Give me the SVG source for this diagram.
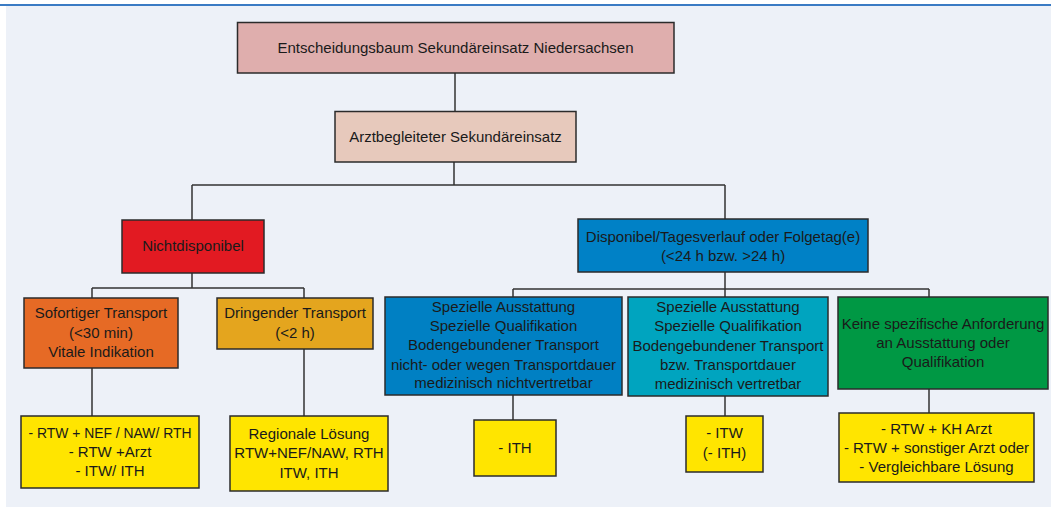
<svg xmlns="http://www.w3.org/2000/svg" width="1051" height="507" viewBox="0 0 1051 507">
<style>
.b{stroke:#2b2b2b;stroke-width:1.5}
.t{font-family:"Liberation Sans",Arial,sans-serif;font-size:15px;fill:#1a1a1a;text-anchor:middle}
.c{fill:none;stroke:#333;stroke-width:1.5}
</style>
<rect x="0" y="0" width="1051" height="507" fill="#ffffff"/>
<rect x="6" y="6" width="1045" height="501" fill="#EDF1F8"/>
<line x1="0" y1="5" x2="1051" y2="5" stroke="#3A7BC4" stroke-width="2"/>
<g id="connectors" class="c">
<path d="M455 73V111"/>
<path d="M454 162V185M192 185H725M192 185V220M725 185V219"/>
<path d="M192 273V288M92 288H304M92 288V298M304 288V298"/>
<path d="M92 368V416M304 349V416"/>
<path d="M725 272V289M513 289H929M513 289V297M725 289V297M929 289V297"/>
<path d="M513 395V420M725 396V416M929 389V413"/>
</g>
<g id="root"><rect class="b" x="237.5" y="22.5" width="436.5" height="50.5" fill="#DFAEAD"/><text class="t" x="455.5" y="53">Entscheidungsbaum Sekundäreinsatz Niedersachsen</text></g>
<g id="arzt"><rect class="b" x="335" y="111.5" width="241" height="50.5" fill="#E7C9BC"/><text class="t" x="455.5" y="142">Arztbegleiteter Sekundäreinsatz</text></g>
<g id="nicht"><rect class="b" x="122" y="220" width="142" height="53" fill="#E21A22"/><text class="t" x="193" y="251">Nichtdisponibel</text></g>
<g id="disp"><rect class="b" x="578" y="219" width="290" height="53" fill="#0081C6"/><text class="t" x="723" y="242">Disponibel/Tagesverlauf oder Folgetag(e)</text><text class="t" x="723" y="261">(&lt;24 h bzw. &gt;24 h)</text></g>
<g id="sofort"><rect class="b" x="24" y="298" width="154" height="70" fill="#E66A25"/><text class="t" x="101" y="318">Sofortiger Transport</text><text class="t" x="101" y="338">(&lt;30 min)</text><text class="t" x="101" y="357">Vitale Indikation</text></g>
<g id="dringend"><rect class="b" x="217" y="298" width="156" height="51" fill="#E4A51E"/><text class="t" x="295" y="318">Dringender Transport</text><text class="t" x="295" y="338">(&lt;2 h)</text></g>
<g id="spez1"><rect class="b" x="385" y="297" width="237" height="98" fill="#0080C3"/><text class="t" x="503.5" y="312">Spezielle Ausstattung</text><text class="t" x="503.5" y="331">Spezielle Qualifikation</text><text class="t" x="503.5" y="350">Bodengebundener Transport</text><text class="t" x="503.5" y="370">nicht- oder wegen Transportdauer</text><text class="t" x="503.5" y="388">medizinisch nichtvertretbar</text></g>
<g id="spez2"><rect class="b" x="628" y="297" width="200" height="99" fill="#00A4BF"/><text class="t" x="728" y="312">Spezielle Ausstattung</text><text class="t" x="728" y="331">Spezielle Qualifikation</text><text class="t" x="728" y="351">Bodengebundener Transport</text><text class="t" x="728" y="370">bzw. Transportdauer</text><text class="t" x="728" y="389">medizinisch vertretbar</text></g>
<g id="keine"><rect class="b" x="838" y="297" width="210" height="92" fill="#009844"/><text class="t" x="943" y="329">Keine spezifische Anforderung</text><text class="t" x="943" y="348">an Ausstattung oder</text><text class="t" x="943" y="367">Qualifikation</text></g>
<g id="res1"><rect class="b" x="21" y="416" width="178" height="72" fill="#FFE500"/><text class="t" x="110" y="438" textLength="163" lengthAdjust="spacingAndGlyphs">- RTW + NEF / NAW/ RTH</text><text class="t" x="110" y="457">- RTW +Arzt</text><text class="t" x="110" y="476">- ITW/ ITH</text></g>
<g id="res2"><rect class="b" x="230" y="416" width="158" height="75" fill="#FFE500"/><text class="t" x="309" y="439">Regionale Lösung</text><text class="t" x="309" y="458">RTW+NEF/NAW, RTH</text><text class="t" x="309" y="478">ITW, ITH</text></g>
<g id="res3"><rect class="b" x="474" y="420" width="82" height="56" fill="#FFE500"/><text class="t" x="515" y="453">- ITH</text></g>
<g id="res4"><rect class="b" x="686" y="416" width="77" height="56" fill="#FFE500"/><text class="t" x="724.5" y="438">- ITW</text><text class="t" x="724.5" y="458">(- ITH)</text></g>
<g id="res5"><rect class="b" x="839" y="413" width="195" height="69" fill="#FFE500"/><text class="t" x="936.5" y="434">- RTW + KH Arzt</text><text class="t" x="936.5" y="453">- RTW + sonstiger Arzt oder</text><text class="t" x="936.5" y="472">- Vergleichbare Lösung</text></g>
</svg>
